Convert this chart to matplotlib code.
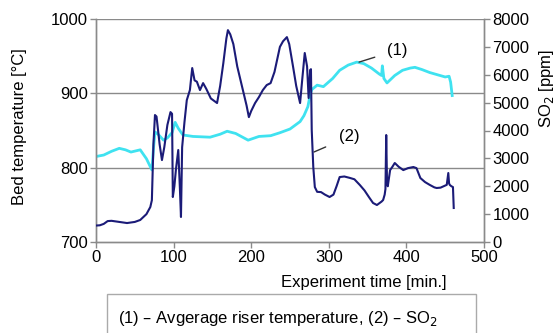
import matplotlib
matplotlib.use("Agg")
import matplotlib.pyplot as plt
from matplotlib.patches import Rectangle

plt.rcParams['font.family'] = ['Liberation Sans', 'DejaVu Sans']
plt.rcParams['font.size'] = 12

# Series (1): average riser (bed) temperature [°C]
temp_t = [0, 10, 20, 30, 38, 45, 57, 65, 72, 74, 76, 80, 87, 92, 98, 102, 106, 112,
          125, 147, 160, 169, 180, 196, 210, 225, 237, 250, 263, 268, 273, 276, 278,
          285, 293, 305, 314, 325, 336, 345, 355, 365, 368, 369, 371, 375, 385, 395,
          405, 411, 420, 430, 440, 450, 455, 457, 459]
temp_v = [815, 817, 822, 826, 824, 821, 824, 812, 797, 825, 848, 845, 837, 840, 847, 861, 853, 844,
          842, 841, 845, 849, 846, 837, 842, 843, 847, 852, 862, 870, 882, 898, 905,
          911, 909, 920, 931, 938, 942, 940, 934, 926, 924, 937, 920, 914, 924, 931,
          934, 935, 932, 928, 925, 922, 923, 915, 897]

# Series (2): SO2 concentration [ppm]
so2_t = [0, 5, 10, 15, 20, 30, 40, 50, 57, 65, 70, 72, 74, 76, 78, 82, 85, 88, 92, 96, 98,
         99, 101, 103, 106, 108, 109.5, 111, 114, 117, 121, 124, 127, 130, 134, 138, 142,
         148, 156, 160, 164, 168, 170, 173, 177, 182, 188, 194, 197, 200, 205, 210, 215,
         220, 225, 230, 237, 241, 246, 249, 254, 258, 263, 266, 269, 272, 274, 276, 277,
         278, 280, 282, 285, 290, 295, 301, 306, 310, 314, 320, 327, 333, 340, 346, 352,
         357, 362, 368, 370, 372, 373, 374, 375, 376, 379, 382, 385, 390, 396, 402, 409,
         413, 418, 424, 430, 436, 439, 444, 448, 452, 454, 455, 456, 458, 460, 461]
so2_v = [590, 600, 650, 750, 760, 720, 680, 720, 790, 1000, 1255, 1500, 3500, 4555, 4500, 3500, 2940, 3400, 4200, 4660, 4600,
         1614, 2000, 2600, 3300, 2000, 897, 3400, 4300, 5090, 5450, 6240, 5800, 5750, 5450, 5700, 5500,
         5150, 4985, 5600, 6400, 7300, 7600, 7450, 7100, 6300, 5600, 4900, 4480, 4700, 4985, 5200, 5450,
         5630, 5700, 6100, 7000, 7200, 7350, 7100, 6280, 5600, 4985, 5900, 6780, 6300, 5165, 6170, 6200,
         4020, 2690, 1970, 1800, 1790, 1700, 1614, 1700, 2000, 2330, 2350, 2300, 2250, 2045, 1850, 1600,
         1400, 1327, 1450, 1506, 1700, 1900, 3838, 2200, 2000, 2580, 2700, 2834, 2700, 2580, 2650, 2690,
         2650, 2295, 2150, 2050, 1960, 1937, 1950, 2000, 2050, 2475, 2100, 2045, 2000, 1970, 1220]

navy = '#1b1b78'
cyan = '#3fe2f0'
grey = '#8a8a8a'

W, H = 555, 333
fig = plt.figure(figsize=(W / 100, H / 100), dpi=100)
ax = fig.add_axes([96 / W, (H - 242) / H, (484 - 96) / W, (242 - 19) / H])
ax2 = ax.twinx()

ax.plot(temp_t, temp_v, color=cyan, lw=2.0, zorder=2)
ax2.plot(so2_t, so2_v, color=navy, lw=1.5, zorder=3)

ax.set_xlim(0, 500)
ax.set_ylim(700, 1000)
ax2.set_ylim(0, 8000)
ax.set_xticks([0, 100, 200, 300, 400, 500])
ax.set_yticks([700, 800, 900, 1000])
ax2.set_yticks(range(0, 8001, 1000))

for y in [800, 900, 1000]:
    ax.axhline(y, color=grey, lw=1.0, zorder=0)

for a in (ax, ax2):
    for s in a.spines.values():
        s.set_color(grey)
        s.set_linewidth(1.0)
    a.tick_params(colors=grey, labelcolor='black', length=4, width=1.0, labelsize=12, pad=2)
ax.spines['top'].set_visible(False)
ax2.spines['top'].set_visible(False)

# annotations
ax.annotate('(1)', xy=(339, 942), xytext=(388, 958), fontsize=12,
            ha='center', va='center',
            arrowprops=dict(arrowstyle='-', color='#333333', lw=1.0, shrinkA=7, shrinkB=0))
ax2.annotate('(2)', xy=(281, 3230), xytext=(326, 3770), fontsize=12,
             ha='center', va='center',
             arrowprops=dict(arrowstyle='-', color='#333333', lw=1.0, shrinkA=8, shrinkB=0))

# axis labels
fig.text(20 / W, 1 - 127 / H, 'Bed temperature [°C]', rotation=90, ha='center', va='center', fontsize=12)
fig.text(547 / W, 1 - 88 / H, 'SO$_2$ [ppm]', rotation=90, ha='center', va='center', fontsize=12)
fig.text(364 / W, 1 - 282 / H, 'Experiment time [min.]', ha='center', va='center', fontsize=12)

# legend-like box
fig.patches.append(Rectangle((107 / W, -0.05), (476 - 107) / W, (H - 294) / H + 0.05,
                             transform=fig.transFigure, fill=False, edgecolor='#aaaaaa', lw=1.0))
fig.text(118 / W, 1 - 319 / H, '(1) – Avgerage riser temperature, (2) – SO$_2$',
         ha='left', va='center', fontsize=12)

fig.savefig('out.png', dpi=100)
